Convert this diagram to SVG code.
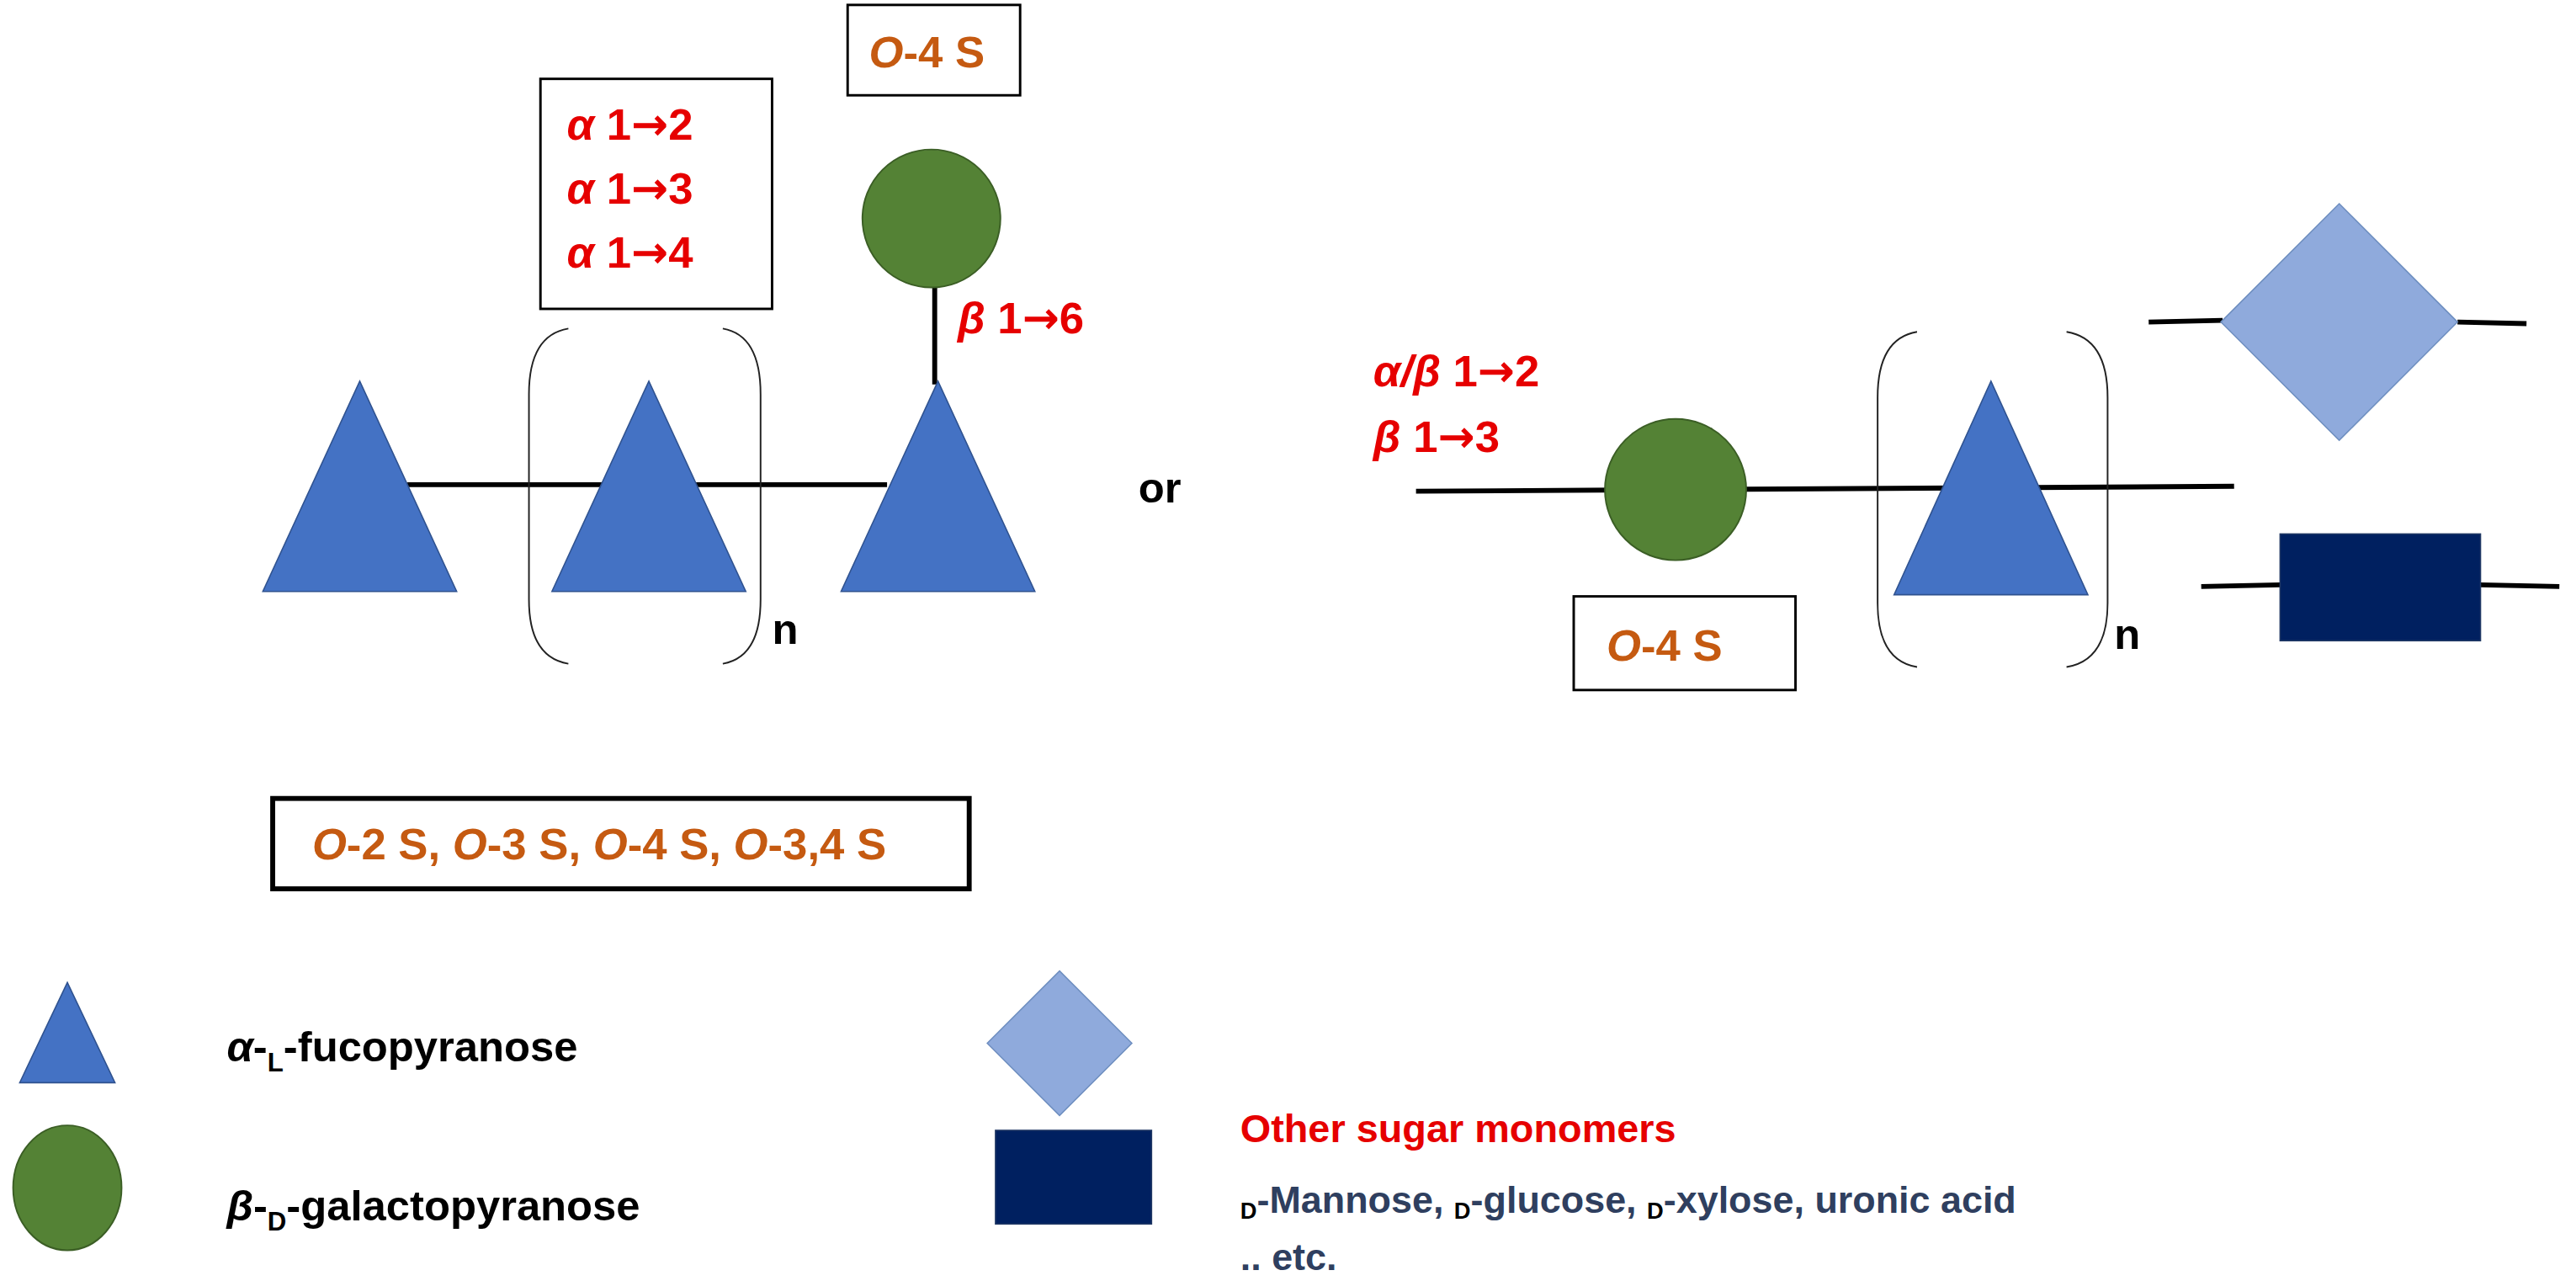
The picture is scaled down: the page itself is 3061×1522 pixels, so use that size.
<svg xmlns="http://www.w3.org/2000/svg" width="3061" height="1522" viewBox="0 0 3061 1522">
<style>
text{font-family:"Liberation Sans",Arial,sans-serif;font-weight:bold}
.red{fill:#E60000;font-size:27px}
.ar{font-family:"DejaVu Sans",sans-serif}
.or{fill:#C55A11;font-size:27px}
.blk{fill:#000;font-size:26px}
.tri{fill:#4472C4;stroke:#2F528F;stroke-width:0.8}
.gal{fill:#548235;stroke:#3B5E25;stroke-width:1}
.dia{fill:#8FAADC;stroke:#6F8FC0;stroke-width:0.8}
.rct{fill:#002060;stroke:#203864;stroke-width:0.8}
.ln{stroke:#000;stroke-width:3;fill:none}
.br{stroke:#222;stroke-width:1;fill:none}
.box{fill:none;stroke:#000;stroke-width:1.5}
</style>
<rect width="3061" height="1522" fill="#fff"/>
<g transform="scale(1.952)">
<g id="connectors">
<line class="ln" x1="248" y1="295" x2="540" y2="295"/>
<line class="ln" x1="569" y1="175" x2="569" y2="234"/>
<line class="ln" x1="862" y1="299" x2="1360" y2="296"/>
<line class="ln" x1="1308" y1="196" x2="1353" y2="195"/>
<line class="ln" x1="1496" y1="196" x2="1538" y2="197"/>
<line class="ln" x1="1340" y1="357" x2="1388" y2="356"/>
<line class="ln" x1="1510" y1="356" x2="1558" y2="357"/>
</g>
<g id="fuc1"><polygon class="tri" points="160,360 278,360 219,232"/></g>
<g id="fuc2"><polygon class="tri" points="336,360 454,360 395,232"/></g>
<g id="fuc3"><polygon class="tri" points="512,360 630,360 571,232"/></g>
<g id="bracket1">
<path class="br" d="M346,200 Q322,204 322,240 L322,365 Q322,400 346,404"/>
<path class="br" d="M440,200 Q463,204 463,240 L463,365 Q463,400 440,404"/>
<text class="blk" x="470" y="392">n</text>
</g>
<g id="alphabox">
<rect class="box" x="329" y="48" width="141" height="140"/>
<text class="red" x="345" y="85"><tspan font-style="italic">α</tspan> 1<tspan class="ar">→</tspan>2</text>
<text class="red" x="345" y="124"><tspan font-style="italic">α</tspan> 1<tspan class="ar">→</tspan>3</text>
<text class="red" x="345" y="163"><tspan font-style="italic">α</tspan> 1<tspan class="ar">→</tspan>4</text>
</g>
<g id="gal1"><circle class="gal" cx="567" cy="133" r="42"/></g>
<g id="o4box1">
<rect class="box" x="516" y="3" width="105" height="55"/>
<text class="or" x="529" y="41"><tspan font-style="italic">O</tspan>-4 S</text>
</g>
<text class="red" x="583" y="203"><tspan font-style="italic">β</tspan> 1<tspan class="ar">→</tspan>6</text>
<text class="blk" x="693" y="306" font-size="28">or</text>
<text class="red" x="836" y="235"><tspan font-style="italic">α/β</tspan> 1<tspan class="ar">→</tspan>2</text>
<text class="red" x="836" y="275"><tspan font-style="italic">β</tspan> 1<tspan class="ar">→</tspan>3</text>
<g id="gal2"><circle class="gal" cx="1020" cy="298" r="43"/></g>
<g id="o4box2">
<rect class="box" x="958" y="363" width="135" height="57"/>
<text class="or" x="978" y="402"><tspan font-style="italic">O</tspan>-4 S</text>
</g>
<g id="bracket2">
<path class="br" d="M1167,202 Q1143,206 1143,242 L1143,367 Q1143,402 1167,406"/>
<path class="br" d="M1258,202 Q1283,206 1283,242 L1283,367 Q1283,402 1258,406"/>
<text class="blk" x="1287" y="395">n</text>
</g>
<g id="fuc4"><polygon class="tri" points="1153,362 1271,362 1212,232"/></g>
<g id="man"><polygon class="dia" points="1424,124 1496,196 1424,268 1352,196"/></g>
<g id="glc"><rect class="rct" x="1388" y="325" width="122" height="65"/></g>
<g id="sulfbox">
<rect fill="none" stroke="#000" stroke-width="3" x="166" y="486" width="424" height="55"/>
<text class="or" x="190" y="523"><tspan font-style="italic">O</tspan>-2 S, <tspan font-style="italic">O</tspan>-3 S,  <tspan font-style="italic">O</tspan>-4 S, <tspan font-style="italic">O</tspan>-3,4 S</text>
</g>
<g id="legend">
<polygon class="tri" points="12,659 70,659 41,598"/>
<text class="blk" x="138" y="646" font-size="26"><tspan font-style="italic">α</tspan>-<tspan font-size="16" dy="6">L</tspan><tspan dy="-6">-fucopyranose</tspan></text>
<ellipse class="gal" cx="41" cy="723" rx="33" ry="38"/>
<text class="blk" x="138" y="743" font-size="26"><tspan font-style="italic">β</tspan>-<tspan font-size="16" dy="6">D</tspan><tspan dy="-6">-galactopyranose</tspan></text>
<polygon class="dia" points="645,591 689,635 645,679 601,635"/>
<rect class="rct" x="606" y="688" width="95" height="57"/>
<text x="755" y="695" fill="#E60000" font-size="24">Other sugar monomers</text>
<text x="755" y="738" fill="#2F3F5F" font-size="23"><tspan font-size="14" dy="4" fill="#000">D</tspan><tspan dy="-4">-Mannose, </tspan><tspan font-size="14" dy="4" fill="#000">D</tspan><tspan dy="-4">-glucose, </tspan><tspan font-size="14" dy="4" fill="#000">D</tspan><tspan dy="-4">-xylose, uronic acid</tspan></text>
<text x="755" y="773" fill="#2F3F5F" font-size="23">.. etc.</text>
</g>
</g>
</svg>
